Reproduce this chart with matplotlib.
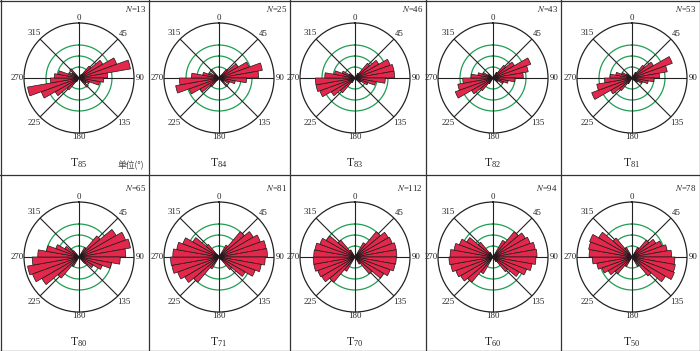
import numpy as np
import matplotlib
matplotlib.use("Agg")
import matplotlib.pyplot as plt
from matplotlib.lines import Line2D

plt.rcParams['font.family'] = ['Liberation Serif', 'DejaVu Serif']
plt.rcParams['mathtext.fontset'] = 'stix'

# ---- data ----
bin_centers = list(range(5, 180, 10))   # degrees, mirrored +180 (bidirectional rose)
panel_labels = ['85', '84', '83', '82', '81', '80', '71', '70', '60', '50']
n_values = [13, 25, 46, 43, 53, 65, 81, 112, 94, 78]
T85 = [0, 0, 0, 0.08, 0.28, 0.50, 0.73, 0.95, 0.52, 0.45, 0.38, 0.20, 0.15, 0.22, 0, 0, 0, 0]
T84 = [0, 0, 0, 0.05, 0.20, 0.40, 0.58, 0.80, 0.72, 0.50, 0.30, 0.20, 0.10, 0.20, 0, 0, 0, 0]
T83 = [0, 0, 0, 0.10, 0.35, 0.50, 0.68, 0.72, 0.72, 0.55, 0.38, 0.25, 0.12, 0.05, 0, 0, 0, 0]
T82 = [0, 0, 0, 0.12, 0.30, 0.45, 0.73, 0.65, 0.55, 0.40, 0.28, 0.20, 0.10, 0.05, 0, 0, 0, 0]
T81 = [0, 0, 0, 0.12, 0.30, 0.45, 0.78, 0.65, 0.50, 0.40, 0.30, 0.20, 0.12, 0.05, 0, 0, 0, 0]
T80 = [0, 0, 0, 0.20, 0.50, 0.78, 0.90, 0.95, 0.85, 0.75, 0.60, 0.45, 0.30, 0.15, 0, 0, 0, 0]
T71 = [0, 0, 0, 0.25, 0.60, 0.72, 0.80, 0.87, 0.88, 0.84, 0.78, 0.70, 0.55, 0.30, 0.05, 0, 0, 0]
T70 = [0, 0, 0, 0.30, 0.60, 0.70, 0.72, 0.76, 0.76, 0.75, 0.74, 0.68, 0.60, 0.40, 0.15, 0, 0, 0]
T60 = [0, 0, 0, 0.35, 0.60, 0.68, 0.72, 0.78, 0.80, 0.78, 0.72, 0.65, 0.55, 0.35, 0.10, 0, 0, 0]
T50 = [0, 0, 0, 0.20, 0.40, 0.50, 0.58, 0.65, 0.72, 0.78, 0.80, 0.82, 0.70, 0.45, 0.20, 0, 0, 0]
series = [T85, T84, T83, T82, T81, T80, T71, T70, T60, T50]
ring_values = [0.2, 0.4, 0.6]
angle_ticks = [0, 45, 90, 135, 180, 225, 270, 315]

W, H = 700, 351
fig = plt.figure(figsize=(W / 100, H / 100), dpi=100)

centers_x = [79, 219, 355, 493, 632]
centers_y = [78, 257]
R = 55
bar_color = '#E3284C'
green = '#1E9E52'

# panel borders
xs = [0.5, 149, 290, 426, 561, 699.5]
ys = [0.5, 175, 350.5]
for x in xs:
    fig.add_artist(Line2D([x / W, x / W], [0, 1], color='#333333', lw=0.9))
for y in ys:
    fig.add_artist(Line2D([0, 1], [1 - y / H, 1 - y / H], color='#333333', lw=0.9))

label_r = {0: 1.09, 45: 1.14, 90: 1.12, 135: 1.16, 180: 1.08, 225: 1.16, 270: 1.13, 315: 1.16}

for i, vals in enumerate(series):
    row, col = divmod(i, 5)
    cx, cy = centers_x[col], centers_y[row]
    ax = fig.add_axes([(cx - R) / W, 1 - (cy + R) / H, 2 * R / W, 2 * R / H],
                      projection='polar')
    ax.set_theta_zero_location('N')
    ax.set_theta_direction(-1)
    ax.set_ylim(0, 1)
    ax.grid(False)
    ax.set_xticks([])
    ax.set_yticks([])
    ax.patch.set_alpha(0)
    ax.spines['polar'].set_linewidth(0.9)
    ax.spines['polar'].set_color('#222222')

    th = np.linspace(0, 2 * np.pi, 361)
    for rv in ring_values:
        ax.plot(th, np.full_like(th, rv), color=green, lw=0.9, zorder=1)
    for a in angle_ticks:
        ax.plot([np.deg2rad(a), np.deg2rad(a)], [0, 1], color='#222222', lw=0.8, zorder=1)

    thetas, heights = [], []
    for c, v in zip(bin_centers, vals):
        if v > 0:
            thetas += [np.deg2rad(c), np.deg2rad(c + 180)]
            heights += [v, v]
    ax.bar(thetas, heights, width=np.deg2rad(10), bottom=0, color=bar_color,
           edgecolor='#1a1a1a', linewidth=0.5, zorder=3)

    for a in angle_ticks:
        ax.text(np.deg2rad(a), label_r[a], str(a), ha='center', va='center',
                fontsize=6.3, color='#222222', clip_on=False)

    # N label
    right_edge = xs[col + 1] - 3
    fig.text(right_edge / W, 1 - (cy - 69) / H, r'$N$=%d' % n_values[i],
             ha='right', va='center', fontsize=6.3, color='#222222')
    # T label
    fig.text(cx / W, 1 - (cy + 85) / H, r'T$_{\mathregular{%s}}$' % panel_labels[i],
             ha='center', va='center', fontsize=8.5, color='#222222')

fig.text(144 / W, 1 - 165 / H, '单位(°)', ha='right', va='center', fontsize=6.3,
         color='#444444', family=['Noto Sans CJK SC', 'DejaVu Sans'])

fig.savefig('out.png', dpi=100)
